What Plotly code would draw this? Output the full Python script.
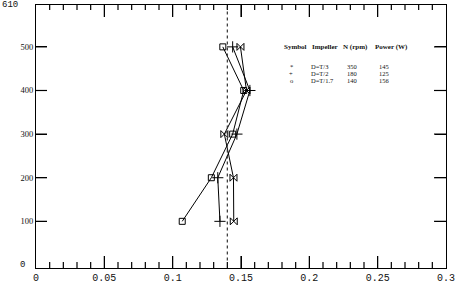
import plotly.graph_objects as go

# ---- data ----
heights = [100, 200, 300, 400, 500]
x_t3 = [0.1447, 0.1445, 0.1378, 0.1540, 0.1496]     # D=T/3  (*)
x_t2 = [0.1346, 0.1330, 0.1470, 0.1565, 0.1439]     # D=T/2  (+)
x_t17 = [0.1070, 0.1283, 0.1439, 0.1520, 0.1367]    # D=T/1.7 (o)
ref_x = 0.14

x_range = [0, 0.3]
y_range = [-7, 596]
x_tickvals = [0, 0.05, 0.1, 0.15, 0.2, 0.25, 0.3]
x_ticktext = ["0", "0.05", "0.1", "0.15", "0.2", "0.25", "0.3"]
x_minor_step = 0.01
y_tickvals = [100, 200, 300, 400, 500]
y_ticktext = ["100", "200", "300", "400", "500"]

headers = ["Symbol", "Impeller", "N (rpm)", "Power (W)"]
symbols = ["*", "+", "o"]
impellers = ["D=T/3", "D=T/2", "D=T/1.7"]
speeds = [350, 180, 140]
powers = [145, 125, 156]

W, H = 466, 294
ML, MR, MT, MB = 36, 20, 5, 26
px_x = (x_range[1] - x_range[0]) / (W - ML - MR)   # data units per pixel
px_y = (y_range[1] - y_range[0]) / (H - MT - MB)

fig = go.Figure()

# ---- axis tick marks inside the frame on all four sides (one segment per trace) ----
tick_line = dict(color="black", width=1.2)
def seg(xs, ys):
    fig.add_trace(go.Scatter(x=xs, y=ys, mode="lines", line=tick_line,
                             hoverinfo="skip", showlegend=False))
def vtick(xv, lb, lt):
    seg([xv, xv], [y_range[0], y_range[0] + lb * px_y])
    seg([xv, xv], [y_range[1], y_range[1] - lt * px_y])
for xv in x_tickvals[1:-1]:
    vtick(xv, 12, 12)
n_minor = int(round(x_range[1] / x_minor_step))
for i in range(1, n_minor):
    if i % 5 != 0:
        vtick(i * x_minor_step, 6, 5)
for yv in y_tickvals:
    seg([x_range[0], x_range[0] + 11 * px_x], [yv, yv])
    seg([x_range[1], x_range[1] - 12 * px_x], [yv, yv])

line = dict(color="black", width=1)
fig.add_trace(go.Scatter(x=x_t3, y=heights, mode="lines+markers", line=line,
                         marker=dict(symbol="bowtie-open", size=7, color="black",
                                     line=dict(width=1, color="black"))))
fig.add_trace(go.Scatter(x=x_t2, y=heights, mode="lines+markers", line=line,
                         marker=dict(symbol="cross-thin-open", size=8, color="black",
                                     line=dict(width=1, color="black"))))
fig.add_trace(go.Scatter(x=x_t17, y=heights, mode="lines+markers", line=line,
                         marker=dict(symbol="square-open", size=6, color="black",
                                     line=dict(width=1, color="black"))))

fig.add_shape(type="line", x0=ref_x, x1=ref_x, y0=10, y1=590, xref="x", yref="y",
              line=dict(color="#333", width=1.2, dash="dot"))

# ---- table text ----
hx = [0.1800, 0.2008, 0.2235, 0.2464]
hy = 499
for h, x in zip(headers, hx):
    fig.add_annotation(x=x, y=hy, text="<b>" + h + "</b>", showarrow=False, xanchor="left",
                       yanchor="middle", font=dict(family="Liberation Serif", size=7, color="#111"))
row_y = [456, 439, 422]
tf = dict(family="Liberation Serif", size=6.5, color="#111")
for i in range(3):
    fig.add_annotation(x=0.1866, y=row_y[i], text=symbols[i], showarrow=False,
                       xanchor="center", yanchor="middle", font=tf)
    fig.add_annotation(x=0.2000, y=row_y[i], text=impellers[i], showarrow=False,
                       xanchor="left", yanchor="middle", font=tf)
    fig.add_annotation(x=0.2312, y=row_y[i], text=str(speeds[i]), showarrow=False,
                       xanchor="center", yanchor="middle", font=tf)
    fig.add_annotation(x=0.2549, y=row_y[i], text=str(powers[i]), showarrow=False,
                       xanchor="center", yanchor="middle", font=tf)

# y end labels
fig.add_annotation(xref="paper", yref="paper", x=-0.038, y=1.0, text="610", showarrow=False,
                   xanchor="right", yanchor="middle",
                   font=dict(family="Liberation Mono", size=9, color="#111"))
fig.add_annotation(xref="paper", yref="y", x=-0.032, y=0, text="0", showarrow=False,
                   xanchor="center", yanchor="middle",
                   font=dict(family="Liberation Mono", size=9, color="#111"))

fig.update_layout(
    width=W, height=H,
    margin=dict(l=ML, r=MR, t=MT, b=MB),
    plot_bgcolor="white", paper_bgcolor="white",
    showlegend=False,
    xaxis=dict(range=x_range, tickvals=x_tickvals, ticktext=x_ticktext,
               showgrid=False, zeroline=False, showline=True, linecolor="black", linewidth=1.2,
               mirror="ticks", ticks="inside", ticklen=12, tickwidth=1, tickcolor="black",
               tickfont=dict(family="Liberation Mono", size=10, color="#111")),
    yaxis=dict(range=y_range, tickvals=y_tickvals, ticktext=y_ticktext,
               showgrid=False, zeroline=False, showline=True, linecolor="black", linewidth=1.2,
               mirror="ticks", ticks="inside", ticklen=11, tickwidth=1, tickcolor="black",
               tickfont=dict(family="Liberation Serif", size=8.5, color="#111")),
)

fig.write_html("out.html")
